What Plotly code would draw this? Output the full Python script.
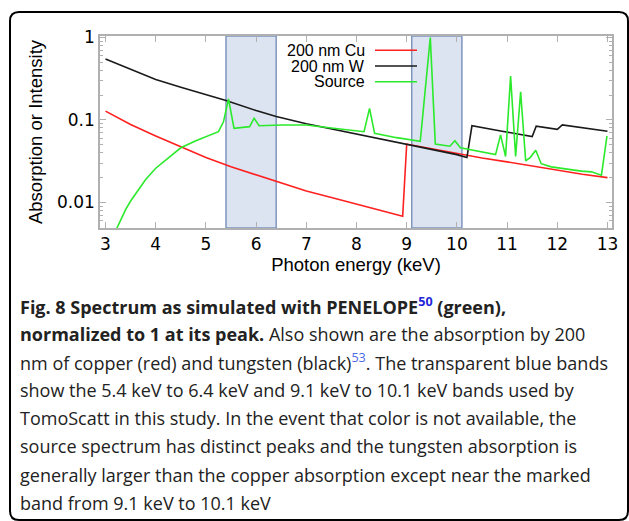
import plotly.graph_objects as go

# ---------------- data ----------------
cu_x = [3.0, 3.5, 4.0, 4.5, 5.0, 5.5, 6.0, 6.5, 7.0, 7.5, 8.0, 8.5, 8.92, 9.0,
        9.5, 10.0, 10.5, 11.0, 11.5, 12.0, 12.5, 13.0]
cu_y = [0.128, 0.088, 0.064, 0.047, 0.035, 0.027, 0.0215, 0.017, 0.0138, 0.0115,
        0.0096, 0.008, 0.0068, 0.051, 0.0445, 0.039, 0.0345, 0.031, 0.0275, 0.0245,
        0.022, 0.020]

w_x = [3.0, 3.5, 4.0, 4.5, 5.0, 5.4, 6.0, 6.4, 7.0, 7.5, 8.0, 8.5, 9.0, 9.5, 10.0,
       10.2, 10.3, 10.9, 11.5, 11.58, 12.0, 12.1, 12.5, 13.0]
w_y = [0.55, 0.41, 0.31, 0.25, 0.205, 0.172, 0.13, 0.11, 0.09, 0.078, 0.067, 0.058,
       0.050, 0.044, 0.038, 0.035, 0.085, 0.073, 0.063, 0.084, 0.077, 0.087, 0.080,
       0.073]

src_x = [3.2, 3.3, 3.4, 3.5, 3.6, 3.8, 4.0, 4.2, 4.5, 4.8, 5.0, 5.25, 5.35, 5.45,
         5.56, 5.87, 5.96, 6.06, 6.5, 7.0, 7.5, 8.0, 8.15, 8.26, 8.36, 8.8, 9.27,
         9.47, 9.57, 9.86, 9.96, 10.07, 10.4, 10.77, 10.87, 10.97, 11.07, 11.17,
         11.27, 11.37, 11.46, 11.57, 11.68, 11.88, 12.48, 12.68, 12.88, 12.99]
src_y = [0.0045, 0.0062, 0.0082, 0.0104, 0.0128, 0.019, 0.026, 0.033, 0.046, 0.056,
         0.063, 0.072, 0.095, 0.18, 0.079, 0.083, 0.105, 0.085, 0.087, 0.087, 0.080,
         0.074, 0.072, 0.138, 0.069, 0.061, 0.055, 1.0, 0.051, 0.048, 0.056, 0.046,
         0.042, 0.038, 0.066, 0.036, 0.34, 0.036, 0.22, 0.032, 0.035, 0.043, 0.0295,
         0.027, 0.024, 0.0235, 0.0214, 0.064]

bands = [(5.4, 6.4), (9.1, 10.1)]

x_ticks = list(range(3, 14))
y_ticks = [0.01, 0.1, 1]
y_ticktext = ["0.01", "0.1", "1"]
y_minor = [0.005, 0.006, 0.007, 0.008, 0.009,
           0.02, 0.03, 0.04, 0.05, 0.06, 0.07, 0.08, 0.09,
           0.2, 0.3, 0.4, 0.5, 0.6, 0.7, 0.8, 0.9]

series_names = ["200 nm Cu", "200 nm W", "Source"]
series_colors = ["#ff2020", "#1a1a1a", "#2bea2b"]

caption_lines = [
    "<b>Fig. 8 Spectrum as simulated with PENELOPE<sup><span style='color:#2424d8'>50</span></sup> (green),</b>",
    "<b>normalized to 1 at its peak.</b> Also shown are the absorption by 200",
    "nm of copper (red) and tungsten (black)<sup><span style='color:#4a6ae8'>53</span></sup>. The transparent blue bands",
    "show the 5.4 keV to 6.4 keV and 9.1 keV to 10.1 keV bands used by",
    "TomoScatt in this study. In the event that color is not available, the",
    "source spectrum has distinct peaks and the tungsten absorption is",
    "generally larger than the copper absorption except near the marked",
    "band from 9.1 keV to 10.1 keV",
]

# ---------------- layout geometry (pixels) ----------------
W, H = 629, 521
ML, MR, MT, MB = 100, 17, 36, 293
PW, PH = W - ML - MR, H - MT - MB


def px(x):
    return (x - ML) / PW


def py(y):
    return (H - MB - y) / PH


fig = go.Figure()
for xs, ys, name, col in [(cu_x, cu_y, series_names[0], series_colors[0]),
                          (w_x, w_y, series_names[1], series_colors[1]),
                          (src_x, src_y, series_names[2], series_colors[2])]:
    fig.add_trace(go.Scatter(x=xs, y=ys, mode="lines", name=name,
                             line=dict(color=col, width=1.6), showlegend=False))

for x0, x1 in bands:
    fig.add_shape(type="rect", xref="x", yref="paper", x0=x0, x1=x1, y0=0, y1=1,
                  fillcolor="#dce3f1", line=dict(color="#7f96bf", width=1.5),
                  layer="below")

# legend drawn manually (text left, line sample right)
leg_y = [50.3, 66.0, 81.7]
for name, col, yy in zip(series_names, series_colors, leg_y):
    fig.add_annotation(xref="paper", yref="paper", x=px(367), y=py(yy), text=name,
                       showarrow=False, xanchor="right", yanchor="middle",
                       font=dict(family="Liberation Sans", size=16, color="black"))
    fig.add_shape(type="line", xref="paper", yref="paper", x0=px(375), x1=px(417),
                  y0=py(yy), y1=py(yy), line=dict(color=col, width=1.5))

# caption
cap_y0, cap_dy = 306, 28.1
for i, line in enumerate(caption_lines):
    fig.add_annotation(xref="paper", yref="paper", x=px(18), y=py(cap_y0 + i * cap_dy),
                       text=line, showarrow=False, xanchor="left", yanchor="middle",
                       font=dict(family="Open Sans", size=18, color="#222222"))

# rounded frame
bx0, by0, bx1, by1, r = 10, 12, 628, 520, 9
path = (f"M {px(bx0 + r)},{py(by0)} L {px(bx1 - r)},{py(by0)} "
        f"Q {px(bx1)},{py(by0)} {px(bx1)},{py(by0 + r)} "
        f"L {px(bx1)},{py(by1 - r)} Q {px(bx1)},{py(by1)} {px(bx1 - r)},{py(by1)} "
        f"L {px(bx0 + r)},{py(by1)} Q {px(bx0)},{py(by1)} {px(bx0)},{py(by1 - r)} "
        f"L {px(bx0)},{py(by0 + r)} Q {px(bx0)},{py(by0)} {px(bx0 + r)},{py(by0)} Z")
fig.add_shape(type="path", xref="paper", yref="paper", path=path,
              line=dict(color="black", width=2), fillcolor="rgba(0,0,0,0)")

axis_col = "#b0b0b0"
fig.update_xaxes(range=[2.89, 13.09], tickvals=x_ticks, ticks="inside", ticklen=6,
                 tickwidth=1.3, tickcolor=axis_col, showline=True, linecolor=axis_col,
                 linewidth=1.5, mirror="ticks", showgrid=False, zeroline=False,
                 tickfont=dict(family="DejaVu Sans", size=17, color="black"),
                 title=dict(text="Photon energy (keV)", standoff=5,
                            font=dict(family="Liberation Sans", size=18.5, color="black")))
fig.update_yaxes(type="log", range=[-2.31, 0.018], tickvals=y_ticks, ticktext=y_ticktext,
                 ticks="inside", ticklen=6, tickwidth=1.3, tickcolor=axis_col,
                 showline=True, linecolor=axis_col, linewidth=1.5, mirror="ticks",
                 showgrid=False, zeroline=False,
                 minor=dict(ticks="inside", ticklen=3, tickcolor=axis_col, tickwidth=1,
                            tickvals=y_minor, showgrid=False),
                 tickfont=dict(family="DejaVu Sans", size=17, color="black"),
                 title=dict(text="Absorption or Intensity", standoff=10,
                            font=dict(family="Liberation Sans", size=18.5, color="black")))

fig.update_layout(width=W, height=H, margin=dict(l=ML, r=MR, t=MT, b=MB),
                  paper_bgcolor="white", plot_bgcolor="white", showlegend=False)

fig.write_html("out.html", config={"displayModeBar": False},
               post_script="document.body.style.margin='0';")
